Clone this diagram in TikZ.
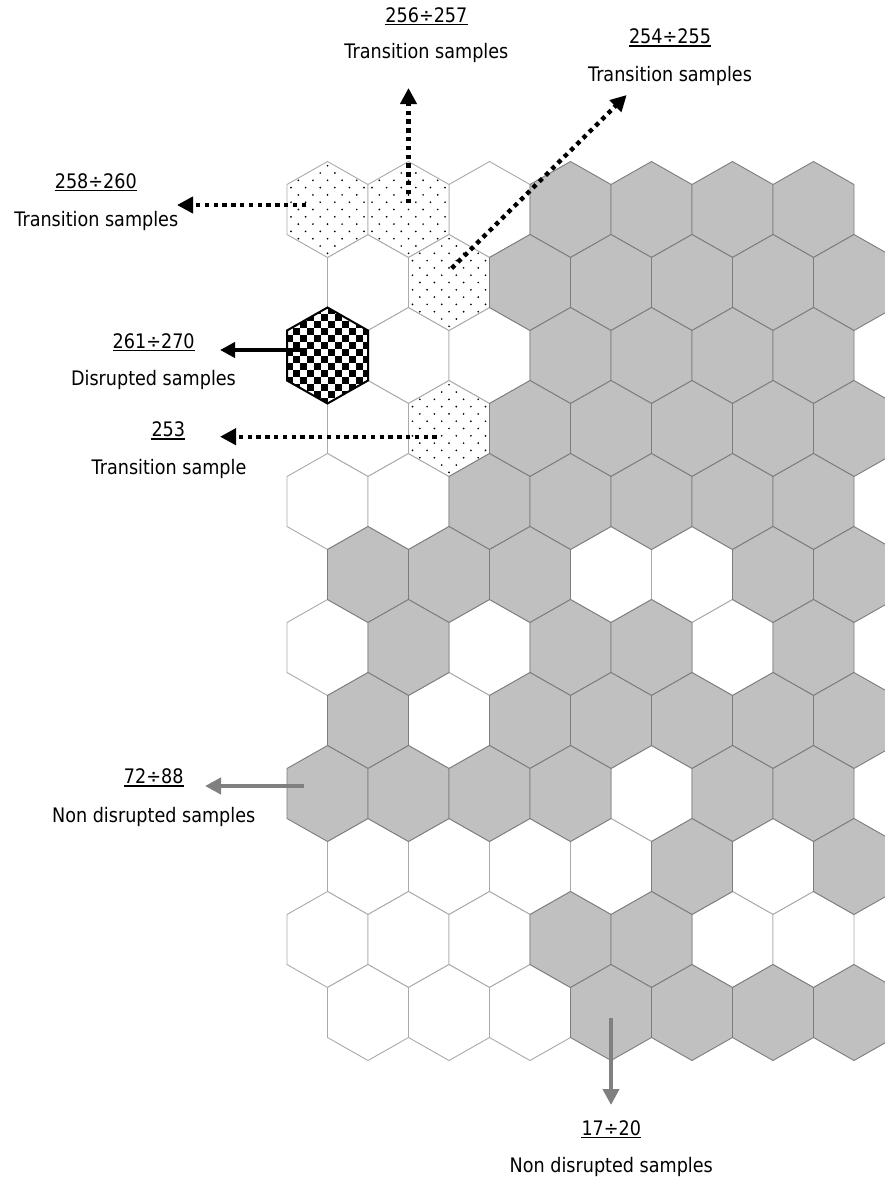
\documentclass[tikz,border=0pt]{standalone}
\usepackage{fontspec}
\setmainfont{DejaVu Sans}[FakeStretch=0.88]
\usetikzlibrary{arrows.meta}
\definecolor{hexgray}{RGB}{192,192,192}
\definecolor{hexedge}{RGB}{125,125,125}
\definecolor{lightedge}{RGB}{170,170,170}
\definecolor{arrowgray}{RGB}{128,128,128}
\newcommand\hexP[2]{(#1,#2-48) -- (#1+40.5,#2-25) -- (#1+40.5,#2+25) -- (#1,#2+48) -- (#1-40.5,#2+25) -- (#1-40.5,#2-25) -- cycle}
\newcommand\hexrows{1/{2,2,0,1,1,1,1},2/{0,2,1,1,1,1,1},3/{3,0,0,1,1,1,1},4/{0,2,1,1,1,1,1},5/{0,0,1,1,1,1,1},6/{1,1,1,0,0,1,1},7/{0,1,0,1,1,0,1},8/{1,0,1,1,1,1,1},9/{1,1,1,1,0,1,1},10/{0,0,0,0,1,0,1},11/{0,0,0,1,1,0,0},12/{0,0,0,1,1,1,1}}
\newcommand\hexlayer[2]{%
  \foreach \rr/\row in \hexrows {
    \foreach \cc [count=\kk from 0] in \row {
      \ifnum\cc=#1\relax
        \pgfmathsetmacro\hx{327.5+81*\kk+40.5*(1-mod(\rr,2))}
        \pgfmathsetmacro\hy{209.5+73*(\rr-1)}
        \draw[#2] \hexP{\hx}{\hy};
      \fi
    }
  }}
\newcommand\dothexat[2]{%
  \fill[white] \hexP{#1}{#2};
  \begin{scope}
    \clip \hexP{#1}{#2};
    \foreach \ii in {-3,...,3} {
      \foreach \jj in {-7,...,7} {
        \pgfmathsetmacro\dxx{#1+14.6*\ii+7.3*mod(\jj+8,2)}
        \pgfmathsetmacro\dyy{#2+7.3*\jj}
        \fill[black] (\dxx,\dyy) circle (0.95);
      }
    }
  \end{scope}
  \draw[dothex] \hexP{#1}{#2};}
\newcommand\chkhexat[2]{%
  \fill[white] \hexP{#1}{#2};
  \begin{scope}
    \clip \hexP{#1}{#2};
    \foreach \ii in {-6,...,5} {
      \foreach \jj in {-7,...,6} {
        \pgfmathtruncatemacro\chk{mod(\ii+\jj+20,2)}
        \ifnum\chk=1\relax
          \fill[black] (#1+7*\ii,#2+7*\jj) rectangle ++(7,7);
        \fi
      }
    }
  \end{scope}
  \draw[chkhex] \hexP{#1}{#2};}
\begin{document}
\begin{tikzpicture}[x=1pt,y=-1pt,
  whitehex/.style={fill=white, draw=lightedge, line width=0.9pt},
  grayhex/.style={fill=hexgray, draw=hexedge, line width=0.9pt},
  dothex/.style={draw=lightedge, line width=0.9pt},
  chkhex/.style={draw=black, line width=2pt, line join=miter},
  lbl/.style={inner sep=0pt, anchor=base, font=\fontsize{20}{24}\selectfont, text=black},
  uline/.style={line width=1.3pt, black},
  dotarrow/.style={line width=4.4pt, dash pattern=on 4.4pt off 4.4pt, -{Triangle[length=16pt,width=16pt]}},
  solidarrow/.style={line width=3.6pt, -{Triangle[length=15pt,width=15pt]}},
  grayarrow/.style={line width=4.6pt, draw=arrowgray, arrowgray, -{Triangle[length=16pt,width=16pt]}}
]
\useasboundingbox (0,0) rectangle (885,1178);
\clip (0,0) rectangle (885,1178);
\fill[white] (0,0) rectangle (885,1178);

% hexagon grid
\hexlayer{0}{whitehex}
\dothexat{327.5}{209.5}
\dothexat{408.5}{209.5}
\dothexat{449}{282.5}
\dothexat{449}{428.5}
\chkhexat{327.5}{355.5}
\hexlayer{1}{grayhex}

% labels
\node[lbl] (n1) at (426.4,22) {256÷257};
\node[lbl] (d1) at (426.4,58.8) {Transition samples};
\node[lbl] (n2) at (670,43.5) {254÷255};
\node[lbl] (d2) at (670,81) {Transition samples};
\node[lbl] (n3) at (95.8,188) {258÷260};
\node[lbl] (d3) at (96.3,226.8) {Transition samples};
\node[lbl] (n4) at (153.7,348) {261÷270};
\node[lbl] (d4) at (153.5,385) {Disrupted samples};
\node[lbl] (n5) at (168.3,436.5) {253};
\node[lbl] (d5) at (169,474.5) {Transition sample};
\node[lbl] (n6) at (153.7,783.5) {72÷88};
\node[lbl] (d6) at (153.7,822) {Non disrupted samples};
\node[lbl] (n7) at (611.3,1135) {17÷20};
\node[lbl] (d7) at (611.3,1172) {Non disrupted samples};
\foreach \n in {n1,n2,n3,n4,n5,n6,n7}
  \draw[uline] ([yshift=-2.5pt]\n.base west) -- ([yshift=-2.5pt]\n.base east);

% arrows
\coordinate (s1) at (408.5,203);   \coordinate (e1) at (408.5,88);
\coordinate (s2) at (451.7,268.3); \coordinate (e2) at (626.7,95);
\coordinate (s3) at (306,205);     \coordinate (e3) at (177,205);
\coordinate (s4) at (306.7,350);   \coordinate (e4) at (220,350);
\coordinate (s5) at (436.7,436.7); \coordinate (e5) at (220,436.7);
\coordinate (s6) at (304,786);     \coordinate (e6) at (205,786);
\coordinate (s7) at (611,1018);    \coordinate (e7) at (611,1105);
\draw[dotarrow] (s1) -- (e1);
\draw[dotarrow] (s2) -- (e2);
\draw[dotarrow] (s3) -- (e3);
\draw[solidarrow] (s4) -- (e4);
\draw[dotarrow] (s5) -- (e5);
\draw[grayarrow] (s6) -- (e6);
\draw[grayarrow] (s7) -- (e7);
\end{tikzpicture}
\end{document}
